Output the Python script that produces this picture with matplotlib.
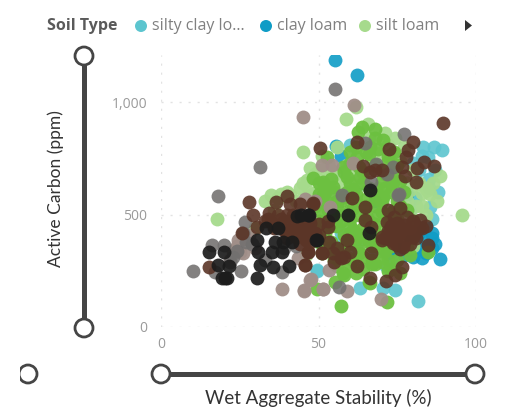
import matplotlib
matplotlib.use("Agg")
import matplotlib.pyplot as plt
from matplotlib.patches import Circle, Polygon, Rectangle

# ---- data: x = wet aggregate stability, y = active carbon
silty_x = [83.3,86.6,89.3,84.8,80.6,49.4,63.1,74.3,70.5,81.7,71.4,56.3,85.4,80.6,49.4,60,78,82,87,85,79,76,73,68,62,57,74,77,81,83,80,85,88,86,76]
silty_y = [798,798,787,757,572,254,172,165,172,117,271,372,535,572,251,809,640,700,700,620,520,450,300,330,360,420,500,350,430,760,730,660,600,480,560]
clay_x = [55.1,62.1,55.7,57,55.5,88.5,83,85.9,81.1,83.5,71.6,56.8,84,79,86,75,82,72,86,78,68,64,80,83,87,84,81,77,73]
clay_y = [1187,1118,804,760,686,301,305,394,357,350,328,335,330,400,350,345,420,380,420,590,560,640,310,390,370,450,390,320,350]
siltl_x = [62,58.6,65.8,45.2,47.3,46.2,88.5,86.4,84.3,82.7,71.1,74.3,69.5,95.6,17.7,85.4,87.5,83,76,53,57,50,48,44,38,35,40,43,80,78,73,67,61,55,63,69,49,52,30,36,46,
           41,37,33,45,48,51,54,84,81,79,82,77,74,72,66,59,47,50,53,56,78,84,80,75,71,80]
siltl_y = [976,924,902,776,705,653,671,639,610,595,861,838,772,498,479,590,560,540,740,730,640,610,590,620,590,585,600,560,700,640,690,750,700,680,650,620,680,560,440,520,320,
           585,575,560,640,550,760,700,500,540,610,640,800,770,810,840,720,600,700,660,800,560,620,480,530,440,360]
loam_x = [63.7,62.6,52.6,60,48.3,51.5,57.9,62.1,66.3,70.5,58.9,63.1,54.7,51.5,61,68.4,73.7,70.5,57,71.8,57.9,49.4,66.3,55.2,84.8,
          50,54,58,52,60,64,68,72,56,62,66,70,74,49,53,57,61,65,69,73,77,50,55,60,65,70,75,80,48,52,56,60,64,68,72,76,54,58,62,66,70,74,78,
          51,55,59,63,67,71,75,79,56,60,64,68,72,76,58,62,66,70,55,61,67,73,
          52,55,58,61,64,67,70,73,76,50,53,56,59,62,65,68,71,74,54,57,60,63,66,69,72,75,78,51,54,57,60,63,66,69,72,58,61,64,67,70,73,55,59,63,67,71,56,60,64,68,72,
          66,69,72,75,62,65,68,71,60,63,48,47,50,53,46,76,79,70,74,68]
loam_y = [887,868,757,779,661,646,713,757,801,830,668,668,622,587,615,610,646,580,95,110,242,169,197,202,335,
          640,660,690,600,640,690,720,740,560,590,620,650,690,540,520,560,530,570,570,600,600,470,490,480,500,510,560,470,440,420,450,420,440,460,440,420,380,360,390,380,380,400,350,
          330,300,310,340,300,340,300,320,270,280,260,280,250,240,230,240,200,290,340,300,280,260,
          620,600,580,610,640,600,560,640,650,590,550,530,600,560,540,540,620,520,470,500,520,500,470,500,480,480,520,510,450,470,450,410,420,410,420,410,430,390,360,340,360,340,400,330,380,350,320,370,310,360,300,
          770,790,760,720,800,780,840,680,730,710,420,480,380,350,450,540,440,700,780,880]
taupe_x = [45,61.2,51,54.4,61,47.3,53.4,45.4,51.5,59.2,69.8,53.6,38.3,45.5,51.5,47.5,25.1,44.6,43.6,24.5,26,22,45.6,49,47,24,27,30,28,26,29,23]
taupe_y = [935,987,720,720,727,209,254,165,168,160,123,535,169,162,168,212,335,550,305,387,420,300,570,560,490,360,390,350,410,330,370,340]
gray_x = [55.3,77.2,64.7,68.2,73.7,71.8,66.8,57.5,75.3,31.5,18.2,26.7,10.3,16.1,20,25.3,38.3,17.1,56.6,75.5,43,23,27,33,39,22,26,29,24]
gray_y = [1058,856,819,724,713,680,646,587,587,712,583,468,251,365,365,251,246,246,177,590,360,310,380,300,350,290,420,370,340]
brown_x = [89.6,50.5,62.3,72.5,79.9,78.5,77.8,76.4,83.5,81.3,86.6,64.2,66.3,77.6,80.8,60.5,64.7,75.8,64.7,82.2,71.6,74.8,78,80.6,75.5,66.8,70,73.7,76.9,84.8,58.9,53.4,46.7,51,54.7,60,57.3,66.8,45.7,62.3,76.4,66.3,74.3,71.3,53.1,48.3,45.2,47.3,
           28,29.1,36.5,39.9,41,44.1,48.4,34.4,30.4,38.8,42,45.2,47.3,39.9,45.7,46.8,51,45.7,15.3,25.6,33,36,41,43,46,49,44,40,72,74,76,79,82,68,70,84,80,78,
           35,38,41,44,47,50,36,39,42,45,48,40,43,46,49,44,47,42,37,34,
           73,75,77,79,81,72,74,76,78,80,83,71,73,75,77,79,81,70,72,76,53,56,50,58,55]
brown_y = [908,794,821,793,824,787,757,713,735,705,716,717,690,671,646,572,532,527,476,476,468,461,431,416,416,446,387,372,357,365,387,379,335,328,328,332,305,328,276,271,265,217,231,205,446,550,416,431,
           554,498,554,582,547,547,547,505,446,468,446,431,461,416,394,335,328,276,265,416,470,450,430,490,400,420,470,500,520,490,445,400,440,700,700,450,470,490,
           465,480,470,455,475,460,440,430,415,405,420,395,400,385,410,370,375,500,500,480,
           450,440,455,425,450,425,405,400,420,400,440,395,385,365,380,370,395,400,415,345,470,350,410,310,290]
black_x = [66.3,54.5,59.4,46.7,44.6,66,49.2,15.3,20,18.2,21.7,20.3,30.4,30.4,33.3,37.2,36.2,38.8,41.5,30.9,35.1,38.3,31.4,35.7,40.7,43.1,47.1,49.4,21,19.5]
black_y = [609,498,498,498,498,416,387,332,332,276,271,217,217,387,442,442,379,379,379,332,332,332,276,268,271,493,498,387,217,217]
legend_names = ["silty clay lo...", "clay loam", "silt loam"]
x_ticks = [0, 50, 100]
y_ticks = [0, 500, 1000]
y_labels = ["0", "500", "1,000"]

COL = {"silty": "#5cc5cf", "clay": "#0f9cc6", "siltl": "#a6da8c", "loam": "#6cc040",
       "taupe": "#a08e88", "gray": "#72706f", "brown": "#5b3527", "black": "#1c1c1c"}

W, H = 510, 408
fig = plt.figure(figsize=(W / 100, H / 100), dpi=100, facecolor="white")
plt.rcParams["font.family"] = ["Open Sans", "DejaVu Sans"]

# plot area: px 161..476 horizontally, px 327..55 vertically
ax = fig.add_axes([161 / W, 1 - 327 / H, 315 / W, 272 / H])
ax.set_xlim(0, 100)
ax.set_ylim(0, 1209)
for s in ax.spines.values():
    s.set_visible(False)
ax.set_xticks(x_ticks, [str(v) for v in x_ticks], color="#9a9a9a", fontsize=10)
ax.set_yticks(y_ticks, y_labels, color="#9a9a9a", fontsize=10)
ax.tick_params(length=0)
ax.tick_params(axis="x", pad=7)
ax.tick_params(axis="y", pad=10)
ax.grid(True, color="#e2e2e2", linewidth=1, linestyle=(0, (1.5, 5)))
ax.set_axisbelow(True)

series = [(silty_x, silty_y, "silty", 0.9), (clay_x, clay_y, "clay", 0.9), (siltl_x, siltl_y, "siltl", 0.95),
          (loam_x, loam_y, "loam", 0.95), (taupe_x, taupe_y, "taupe", 0.95), (gray_x, gray_y, "gray", 0.88),
          (brown_x, brown_y, "brown", 0.9), (black_x, black_y, "black", 0.92)]
for sx, sy, key, a in series:
    ax.scatter(sx, sy, s=100, color=COL[key], alpha=a, linewidths=0, zorder=3)

# overlay for legend, sliders and axis titles (pixel coordinates)
ov = fig.add_axes([0, 0, 1, 1], facecolor="none")
ov.set_xlim(0, W)
ov.set_ylim(H, 0)
ov.axis("off")

ov.text(47, 26, "Soil Type", fontsize=11.5, fontweight="bold", color="#5a5a5a", va="center", ha="left")
for mx, tx, name, key in zip([141, 266, 365], [152, 277, 376], legend_names, ["silty", "clay", "siltl"]):
    ov.add_patch(Circle((mx, 26), 6, color=COL[key], lw=0))
    ov.text(tx, 26, name, fontsize=11.5, color="#808080", va="center", ha="left")
ov.add_patch(Polygon([[465, 20], [465, 31], [472, 25.5]], color="#333333", lw=0))

DK = "#454545"
ov.plot([84, 84], [58, 328], color=DK, lw=3.6, solid_capstyle="butt", zorder=1)
ov.plot([161, 475], [374, 374], color=DK, lw=3.6, solid_capstyle="butt", zorder=1)
for c in [(84, 56), (84, 328), (161, 374), (475, 374), (28, 374)]:
    ov.add_patch(Circle(c, 9, facecolor="white", edgecolor=DK, lw=2, zorder=2))
ov.add_patch(Rectangle((0, 360), 20, 28, facecolor="white", edgecolor="none", zorder=3))
ov.text(56, 189, "Active Carbon (ppm)", rotation=90, fontsize=12.5, color="#333333",
        ha="center", va="center", family="Lato")
ov.text(318, 398, "Wet Aggregate Stability (%)", fontsize=13.5, color="#333333",
        ha="center", va="center", family="Lato")

fig.savefig("out.png", dpi=100)
